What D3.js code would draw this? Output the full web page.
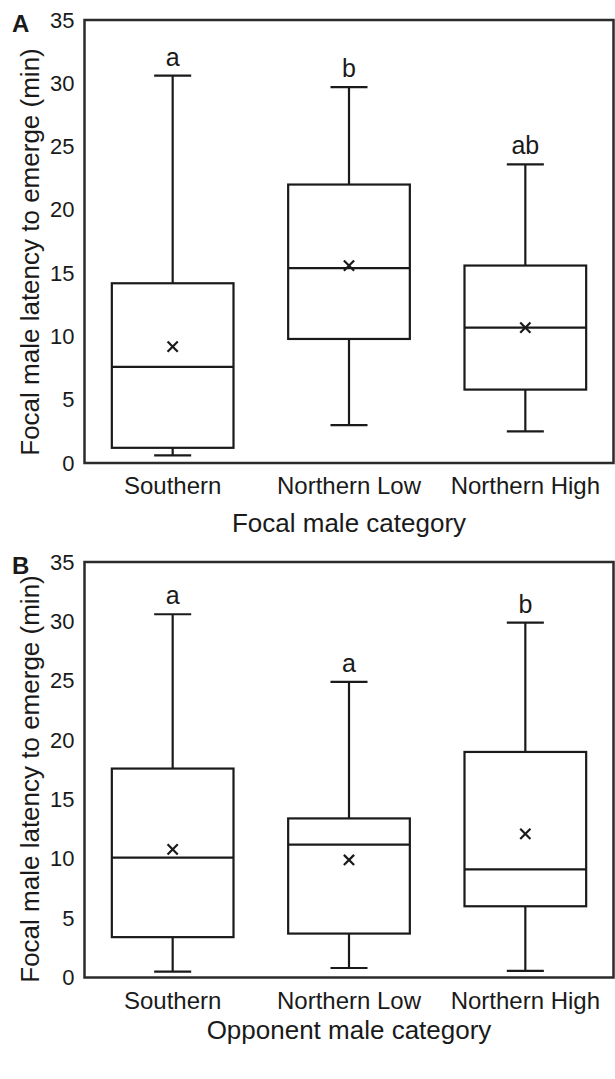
<!DOCTYPE html>
<html>
<script src='https://d3js.org/d3.v7.min.js'></script>
<style>
  body { margin: 0; background: #fff; }
  text { font-family: "Liberation Sans", Arial, sans-serif; fill: #1a1a1a; }
</style>
<body>
<svg width=615 height=1079></svg>
<script>
// categories shared by both panels
var categories = ["Southern", "Northern Low", "Northern High"]
var yTicks = [0, 5, 10, 15, 20, 25, 30, 35]

// panel A : focal male category
var focalLow    = [0.6, 3.0, 2.5]
var focalQ1     = [1.2, 9.8, 5.8]
var focalMedian = [7.6, 15.4, 10.7]
var focalQ3     = [14.2, 22.0, 15.6]
var focalHigh   = [30.6, 29.7, 23.6]
var focalMean   = [9.2, 15.6, 10.7]
var focalLetters = ["a", "b", "ab"]

// panel B : opponent male category
var oppLow    = [0.5, 0.8, 0.55]
var oppQ1     = [3.4, 3.7, 6.0]
var oppMedian = [10.1, 11.2, 9.1]
var oppQ3     = [17.6, 13.4, 19.0]
var oppHigh   = [30.6, 24.9, 29.9]
var oppMean   = [10.8, 9.9, 12.1]
var oppLetters = ["a", "a", "b"]

var svg = d3.select("svg")
var x = d3.scaleBand().domain(categories).range([84.5, 613.5])

function draw_panel(opt) {
  var y = d3.scaleLinear().domain([0, 35]).range([opt.bottom, opt.top])
  var g = svg.append("g")

  var rows = categories.map(function(c, i) {
    return {cat: c, lo: opt.low[i], q1: opt.q1[i], med: opt.median[i],
            q3: opt.q3[i], hi: opt.high[i], mean: opt.mean[i], letter: opt.letters[i]}
  })

  // y axis labels, no tick marks
  var ax = g.append("g")
    .attr("transform", "translate(84.5,0)")
    .call(d3.axisLeft(y).tickValues(yTicks).tickSize(0).tickPadding(10))
  ax.select(".domain").remove()
  ax.selectAll("text").style("font-size", "22px").style("font-family", "Liberation Sans, Arial, sans-serif").attr("fill", "#1a1a1a")

  // frame
  g.append("rect")
    .attr("x", x.range()[0]).attr("y", y(35))
    .attr("width", x.range()[1] - x.range()[0]).attr("height", y(0) - y(35))
    .attr("fill", "none").attr("stroke", "#2b2b2b").attr("stroke-width", 2.5)

  var bw = x.bandwidth() * 0.69
  var cw = x.bandwidth() * 0.21
  var box = g.selectAll(".box").data(rows).enter().append("g")
    .attr("class", "box")
    .attr("transform", function(d) { return "translate(" + (x(d.cat) + x.bandwidth() / 2) + ",0)" })

  // whiskers
  box.append("line").attr("x1", 0).attr("x2", 0)
    .attr("y1", function(d) { return y(d.hi) }).attr("y2", function(d) { return y(d.q3) })
  box.append("line").attr("x1", 0).attr("x2", 0)
    .attr("y1", function(d) { return y(d.q1) }).attr("y2", function(d) { return y(d.lo) })
  box.append("line").attr("x1", -cw / 2).attr("x2", cw / 2)
    .attr("y1", function(d) { return y(d.hi) }).attr("y2", function(d) { return y(d.hi) })
  box.append("line").attr("x1", -cw / 2).attr("x2", cw / 2)
    .attr("y1", function(d) { return y(d.lo) }).attr("y2", function(d) { return y(d.lo) })
  box.append("rect")
    .attr("x", -bw / 2).attr("width", bw)
    .attr("y", function(d) { return y(d.q3) })
    .attr("height", function(d) { return y(d.q1) - y(d.q3) })
    .attr("fill", "none")
  box.append("line").attr("x1", -bw / 2).attr("x2", bw / 2)
    .attr("y1", function(d) { return y(d.med) }).attr("y2", function(d) { return y(d.med) })
  box.selectAll("line, rect").attr("stroke", "#1a1a1a").attr("stroke-width", 2.2)

  // mean marker
  box.append("path")
    .attr("d", d3.symbol(d3.symbolX, 70))
    .attr("transform", function(d) { return "translate(0," + y(d.mean) + ")" })
    .attr("stroke", "#1a1a1a").attr("stroke-width", 2.2).attr("fill", "none")

  // significance letters
  box.append("text")
    .attr("y", function(d) { return y(d.hi) - 10 })
    .attr("text-anchor", "middle")
    .style("font-size", "25px")
    .text(function(d) { return d.letter })

  // category labels
  g.selectAll(".cat").data(categories).enter().append("text")
    .attr("x", function(d) { return x(d) + x.bandwidth() / 2 })
    .attr("y", opt.bottom + 31)
    .attr("text-anchor", "middle")
    .style("font-size", "24px")
    .text(function(d) { return d })

  g.append("text")
    .attr("x", (x.range()[0] + x.range()[1]) / 2)
    .attr("y", opt.titleY)
    .attr("text-anchor", "middle")
    .style("font-size", "26px")
    .text(opt.xTitle)

  g.append("text")
    .attr("transform", "translate(39," + opt.yTitleC + ") rotate(-90)")
    .attr("text-anchor", "middle")
    .style("font-size", "26px")
    .text("Focal male latency to emerge (min)")

  g.append("text")
    .attr("x", 12).attr("y", opt.top + 12)
    .style("font-size", "24px").style("font-weight", "bold")
    .text(opt.panel)
}

draw_panel({panel: "A", top: 20, bottom: 463, titleY: 531.5, yTitleC: 252,
  xTitle: "Focal male category",
  low: focalLow, q1: focalQ1, median: focalMedian, q3: focalQ3, high: focalHigh,
  mean: focalMean, letters: focalLetters})

draw_panel({panel: "B", top: 562, bottom: 977.5, titleY: 1038.5, yTitleC: 779,
  xTitle: "Opponent male category",
  low: oppLow, q1: oppQ1, median: oppMedian, q3: oppQ3, high: oppHigh,
  mean: oppMean, letters: oppLetters})
</script>
</body>
</html>
